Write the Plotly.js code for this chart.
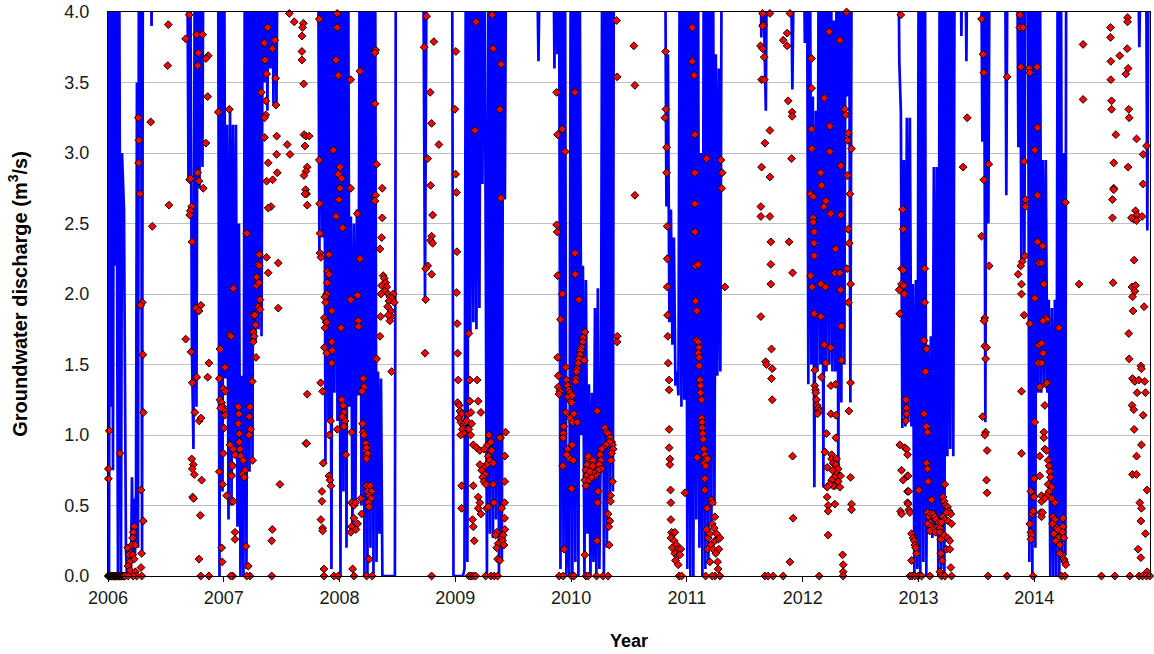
<!DOCTYPE html>
<html>
<head>
<meta charset="utf-8">
<script src="https://cdn.plot.ly/plotly-3.0.1.min.js"></script>
<style>
  html, body { margin: 0; padding: 0; background: #fff; }
  #chart { width: 1154px; height: 654px; }
</style>
</head>
<body>
<div id="chart"></div>
<script>
// Simulated groundwater discharge (m3/s) against decimal year.
// Values above the plotted range (4.0) are off-scale peaks; each block is a
// continuous stretch of record, and blocks are separated by gaps in the record.
const simulatedBlocks = [
  [[2006.000,5],[2006.009,0],[2006.017,5],[2006.026,1.2],[2006.035,5],[2006.043,0.75],[2006.052,5],[2006.060,2.2],[2006.069,5],[2006.086,0],[2006.095,5],[2006.112,0],[2006.121,3.0],[2006.138,2.6],[2006.155,0.2],[2006.164,0],[2006.181,0],[2006.199,0.05],[2006.207,0.7],[2006.216,0.1],[2006.225,0.55],[2006.233,0.15],[2006.242,0.6],[2006.250,3.5],[2006.259,0.2],[2006.268,5],[2006.276,3.3],[2006.285,5],[2006.294,0.15],[2006.302,5]],
  [[2006.363,5],[2006.376,3.9],[2006.389,5]],
  [[2006.682,5],[2006.695,2.8],[2006.708,5],[2006.725,1.6],[2006.738,0.9],[2006.751,5],[2006.764,1.2],[2006.777,5],[2006.790,2.75],[2006.803,5],[2006.816,2.9],[2006.825,5]],
  [[2006.950,5],[2006.963,0],[2006.976,5],[2006.989,0.6],[2007.002,5],[2007.015,1.4],[2007.028,3.2],[2007.041,0.4],[2007.054,3.3],[2007.067,0.5],[2007.079,3.2],[2007.092,0.9],[2007.105,3.2],[2007.118,0.35],[2007.131,2.5],[2007.144,0],[2007.157,1.42],[2007.170,0],[2007.183,5],[2007.196,0.05],[2007.209,5],[2007.222,0.74],[2007.235,5],[2007.248,0.8],[2007.261,5],[2007.274,1.66],[2007.287,5],[2007.300,1.75],[2007.313,5],[2007.326,1.7],[2007.339,5],[2007.351,3.5],[2007.364,5],[2007.377,3.3],[2007.390,5],[2007.403,3.6],[2007.416,5],[2007.429,3.35],[2007.442,5],[2007.455,3.35],[2007.468,5]],
  [[2007.813,5],[2007.826,2.3],[2007.839,5],[2007.852,2.4],[2007.865,5],[2007.878,0.8],[2007.891,5],[2007.904,1.1],[2007.917,4.2],[2007.930,0.05],[2007.943,5],[2007.956,1.3],[2007.969,5],[2007.982,1.1],[2007.995,5],[2008.008,0],[2008.021,5],[2008.034,0.6],[2008.047,5],[2008.060,0.2],[2008.073,5],[2008.085,1.2],[2008.098,2.55],[2008.111,0.35],[2008.124,2.5],[2008.137,0.5],[2008.150,2.6],[2008.163,1.28],[2008.176,5],[2008.189,0.5],[2008.202,5],[2008.215,0],[2008.228,5],[2008.241,0],[2008.254,5],[2008.267,0.2],[2008.280,5],[2008.293,0],[2008.306,5],[2008.319,0.1],[2008.332,1.45],[2008.345,0.3],[2008.358,1.4],[2008.370,0],[2008.478,0],[2008.487,5]],
  [[2008.720,5],[2008.738,1.96],[2008.755,5]],
  [[2008.971,5],[2008.984,0],[2008.997,0],[2009.066,0],[2009.079,0.05],[2009.092,5],[2009.104,0.1],[2009.117,5],[2009.130,1.72],[2009.143,5],[2009.156,1.8],[2009.169,5],[2009.182,1.75],[2009.195,5],[2009.208,1.9],[2009.221,5],[2009.234,2.78],[2009.247,5],[2009.260,2.9],[2009.273,0],[2009.286,5],[2009.299,0.3],[2009.312,5],[2009.325,0.27],[2009.338,5],[2009.351,0.4],[2009.364,5],[2009.377,0],[2009.389,5],[2009.402,0.12],[2009.415,5],[2009.428,2.67],[2009.441,5]],
  [[2009.696,5],[2009.718,3.65],[2009.739,5]],
  [[2009.843,5],[2009.856,3.6],[2009.869,5],[2009.882,3.7],[2009.895,5],[2009.908,0.05],[2009.921,5],[2009.934,0.2],[2009.946,5],[2009.959,0],[2009.972,0.9],[2009.985,0],[2009.998,5],[2010.011,0],[2010.024,5],[2010.037,0.1],[2010.050,5],[2010.063,0],[2010.076,4.0],[2010.089,1.0],[2010.102,2.2],[2010.115,0],[2010.128,2.1],[2010.141,0.3],[2010.154,1.36],[2010.167,0],[2010.180,1.3],[2010.193,0.1],[2010.206,1.9],[2010.218,0],[2010.231,2.04],[2010.244,0.05],[2010.257,1.0],[2010.270,5],[2010.283,0],[2010.296,5],[2010.309,0.2],[2010.322,5],[2010.335,0.55],[2010.348,5],[2010.361,0.6],[2010.370,5]],
  [[2010.810,5],[2010.823,2.62],[2010.836,3.7],[2010.849,1.8],[2010.862,2.6],[2010.875,1.64],[2010.888,2.4],[2010.901,1.35],[2010.914,1.45],[2010.927,1.28],[2010.940,5],[2010.953,1.2],[2010.966,5],[2010.978,1.25],[2010.991,5],[2011.004,0.05],[2011.017,5],[2011.030,0],[2011.043,4.5],[2011.056,0],[2011.069,5],[2011.082,0.4],[2011.095,5],[2011.108,0.2],[2011.121,3.0],[2011.134,0],[2011.147,5],[2011.160,0.05],[2011.173,5],[2011.186,0.1],[2011.199,5],[2011.212,0.38],[2011.225,5],[2011.238,0.5],[2011.250,3.7],[2011.263,1.42],[2011.276,3.6],[2011.289,1.45],[2011.302,5]],
  [[2011.630,5],[2011.643,3.82],[2011.656,5],[2011.669,3.85],[2011.682,3.3],[2011.695,5]],
  [[2011.890,5],[2011.911,3.45],[2011.933,5]],
  [[2012.002,5],[2012.019,3.78],[2012.036,5],[2012.049,1.36],[2012.062,5],[2012.075,1.5],[2012.088,3.4],[2012.101,0.63],[2012.114,3.3],[2012.127,1.45],[2012.140,5],[2012.153,1.5],[2012.166,5],[2012.179,0.63],[2012.192,5],[2012.205,1.45],[2012.218,5],[2012.231,1.5],[2012.244,5],[2012.257,1.45],[2012.270,3.94],[2012.282,1.45],[2012.295,5],[2012.308,0.65],[2012.321,5],[2012.334,1.23],[2012.347,5],[2012.360,1.5],[2012.373,5],[2012.386,3.4],[2012.399,5],[2012.412,1.23],[2012.425,5]],
  [[2012.822,5],[2012.835,3.64],[2012.848,3.3],[2012.861,1.05],[2012.874,2.95],[2012.887,1.06],[2012.900,3.25],[2012.913,1.1],[2012.926,3.25],[2012.939,1.06],[2012.952,2.07],[2012.965,0],[2012.978,2.1],[2012.991,0.05],[2013.003,5],[2013.016,0],[2013.029,5],[2013.042,0.1],[2013.055,5],[2013.068,0],[2013.081,1.64],[2013.094,0.3],[2013.107,1.7],[2013.120,0.27],[2013.133,2.9],[2013.146,0.33],[2013.159,2.9],[2013.172,0],[2013.185,5],[2013.198,0.05],[2013.211,5],[2013.224,0],[2013.237,5],[2013.250,0.85],[2013.263,5],[2013.275,0.9],[2013.288,5],[2013.301,0.85],[2013.314,5]],
  [[2013.358,5],[2013.371,3.83],[2013.384,5]],
  [[2013.401,5],[2013.414,3.65],[2013.427,5]],
  [[2013.539,5],[2013.552,3.08],[2013.565,5],[2013.578,1.09],[2013.591,5],[2013.604,2.5],[2013.617,5]],
  [[2013.746,5],[2013.759,2.7],[2013.772,5]],
  [[2013.850,5],[2013.863,3.04],[2013.876,5],[2013.889,2.2],[2013.902,5],[2013.915,2.25],[2013.927,5],[2013.945,5],[2013.958,0.1],[2013.971,5],[2013.984,0],[2013.997,5],[2014.010,0.2],[2014.023,5],[2014.036,1.3],[2014.048,5],[2014.061,1.3],[2014.074,2.95],[2014.087,1.35],[2014.100,2.95],[2014.113,1.3],[2014.126,1.96],[2014.139,0],[2014.152,1.9],[2014.165,0],[2014.178,1.96],[2014.191,0],[2014.204,5],[2014.217,0],[2014.230,5],[2014.243,0.1],[2014.256,3.0],[2014.269,0.15],[2014.277,5]],
  [[2014.886,5],[2014.908,3.75],[2014.929,5]],
  [[2014.964,5],[2014.977,2.45],[2014.990,5],[2015.000,5]]
];

// Observed groundwater discharge (m3/s) against decimal year.
const observed = [
  // 2006
  [2006.002,0],[2006.007,0],[2006.012,0],[2006.017,0],[2006.022,0],[2006.027,0],[2006.032,0],[2006.037,0],[2006.042,0],[2006.047,0],[2006.052,0],[2006.057,0],[2006.062,0],[2006.067,0],[2006.072,0],[2006.077,0],[2006.082,0],[2006.087,0],[2006.092,0],[2006.097,0],[2006.102,0],[2006.107,0],[2006.112,0],[2006.117,0],[2006.122,0],[2006.127,0],[2006.132,0],[2006.137,0],[2006.142,0],[2006.147,0],
  [2006.011,1.03],[2006.104,0.87],[2006.003,0.76],[2006.003,0.69],
  [2006.227,0.35],[2006.218,0.31],[2006.213,0.27],[2006.207,0.22],[2006.170,0.20],[2006.196,0.16],[2006.181,0.15],[2006.213,0.15],[2006.236,0.22],[2006.291,0.16],[2006.227,0.12],[2006.187,0.10],[2006.173,0.07],[2006.190,0.04],[2006.236,0.03],[2006.285,0.06],[2006.291,0],[2006.248,0],[2006.218,0],[2006.175,0],
  [2006.262,3.25],[2006.268,3.09],[2006.265,2.93],[2006.276,2.71],[2006.296,1.94],[2006.282,1.92],[2006.302,1.57],[2006.305,1.16],[2006.285,0.61],[2006.305,0.39],
  [2006.369,3.22],[2006.383,2.48],[2006.521,3.91],[2006.516,3.62],[2006.527,2.63],
  [2006.702,3.98],[2006.671,3.81],[2006.766,3.84],[2006.818,3.84],[2006.780,3.71],[2006.866,3.69],[2006.846,3.67],[2006.775,3.62],[2006.861,3.40],[2006.846,3.07],
  [2006.706,2.81],[2006.714,2.82],[2006.775,2.86],[2006.786,2.80],[2006.823,2.75],[2006.723,2.62],[2006.711,2.59],[2006.706,2.56],[2006.725,2.37],
  [2006.760,1.90],[2006.803,1.92],[2006.786,1.88],[2006.671,1.68],[2006.717,1.59],[2006.728,1.37],[2006.766,1.41],[2006.861,1.41],[2006.872,1.51],
  [2006.751,1.16],[2006.788,1.10],[2006.803,1.12],[2006.723,0.83],[2006.737,0.79],[2006.745,0.72],[2006.728,0.76],[2006.809,0.68],[2006.731,0.56],[2006.740,0.55],[2006.797,0.43],[2006.786,0.12],[2006.801,0],[2006.872,0],
  [2006.953,3.29],[2006.967,1.61],[2006.961,1.40],
  [2006.967,1.25],[2006.982,1.23],[2006.990,1.20],[2007.002,1.18],[2007.010,1.14],[2007.004,1.05],[2006.996,1.33],[2007.013,1.31],[2006.973,1.19],
  [2006.996,0.87],[2006.961,0.74],[2006.990,0.65],[2006.982,0.20],[2006.987,0.10],
  // 2007
  [2007.048,3.31],[2007.082,2.04],[2007.054,1.71],[2007.010,1.48],[2007.062,1.70],
  [2007.054,0.93],[2007.068,0.79],[2007.062,0.72],[2007.025,0.57],[2007.068,0.53],[2007.077,0],[2007.060,0],
  [2007.125,1.20],[2007.131,1.15],[2007.125,1.08],[2007.134,1.01],[2007.134,0.95],[2007.140,0.90],[2007.146,0.85],
  [2007.226,1.20],[2007.220,1.13],[2007.232,1.04],[2007.218,1.00],[2007.250,0.82],
  [2007.082,0.90],[2007.077,0.78],[2007.068,0.71],[2007.097,0.86],[2007.168,0.82],[2007.183,0.75],[2007.163,0.72],[2007.177,0.70],
  [2007.082,0.53],[2007.097,0.31],[2007.097,0.26],[2007.192,0.21],[2007.212,0.07],[2007.226,0],[2007.198,0],
  [2007.198,2.43],[2007.307,2.28],[2007.298,2.21],[2007.307,2.20],[2007.284,2.12],[2007.284,2.06],[2007.304,2.08],[2007.313,1.96],[2007.298,1.91],[2007.313,1.89],
  [2007.255,1.85],[2007.269,1.85],[2007.275,1.78],[2007.255,1.73],[2007.263,1.70],[2007.255,1.66],[2007.278,1.55],[2007.246,1.38],
  [2007.370,2.26],[2007.384,2.15],[2007.471,2.22],[2007.471,1.90],
  [2007.379,3.89],[2007.350,3.78],[2007.419,3.74],[2007.442,3.80],[2007.356,3.66],[2007.370,3.56],[2007.448,3.53],[2007.324,3.43],[2007.364,3.37],[2007.451,3.34],[2007.362,3.27],[2007.353,3.25],[2007.353,3.11],[2007.457,3.12],
  [2007.548,3.06],[2007.572,2.99],[2007.457,2.99],[2007.384,2.93],[2007.462,2.86],[2007.422,2.81],[2007.370,2.80],[2007.408,2.62],[2007.384,2.61],
  [2007.419,0.33],[2007.414,0.25],[2007.414,0],[2007.485,0.65],
  [2007.566,3.99],[2007.609,3.93],[2007.687,3.92],[2007.681,3.89],[2007.675,3.83],[2007.675,3.72],[2007.675,3.66],[2007.690,3.49],
  [2007.693,3.13],[2007.710,3.12],[2007.738,3.12],[2007.701,3.05],[2007.721,2.90],[2007.710,2.87],[2007.693,2.84],[2007.707,2.74],[2007.716,2.71],[2007.701,2.71],[2007.721,2.63],
  [2007.721,1.29],[2007.710,0.94],[2007.716,0.94],
  [2007.825,3.95],[2007.980,3.99],[2007.980,3.89],[2007.969,3.66],[2007.989,3.55],[2007.825,2.95],[2007.946,3.02],[2007.989,2.85],[2007.995,2.67],[2007.828,2.64],[2007.969,2.55],[2007.831,2.43],[2007.831,2.29],[2007.839,2.26],[2007.908,2.28],
  [2007.897,2.16],[2007.908,2.14],[2007.894,2.08],[2007.889,2.00],[2007.874,1.98],[2007.880,1.94],[2007.932,1.88],[2007.868,1.83],[2007.883,1.80],[2007.874,1.76],[2007.889,1.80],
  [2007.868,1.62],[2007.889,1.58],[2007.932,1.66],[2007.937,1.60],[2007.932,1.51],[2007.837,1.37],[2007.854,1.31],
  [2007.859,0.80],[2007.908,0.71],[2007.917,0.68],[2007.926,0.64],[2007.848,0.60],[2007.848,0.53],[2007.839,0.40],[2007.854,0.34],[2007.854,0.32],
  [2007.911,1.00],[2007.923,1.10],[2007.980,1.04],[2007.865,0.05],[2007.865,0],[2007.952,0],[2007.989,0],
  // 2008
  [2008.003,2.90],[2008.018,2.82],[2008.003,2.75],[2008.027,2.47],[2008.012,1.76],
  [2008.096,3.52],[2008.176,3.58],[2008.096,2.75],[2008.153,2.57],[2008.176,2.25],[2008.096,1.96],[2008.156,1.99],[2008.162,1.81],[2008.162,1.77],
  [2008.018,1.25],[2008.032,1.21],[2008.038,1.16],[2008.047,1.10],[2008.038,1.06],[2008.023,1.13],[2008.055,0.86],[2008.104,1.02],
  [2008.104,0.52],[2008.124,0.50],[2008.139,0.52],[2008.124,0.41],[2008.104,0.35],[2008.142,0.33],[2008.098,0.31],[2008.156,0.37],[2008.185,0.55],[2008.191,0.44],[2008.113,0.05],[2008.124,0],
  [2008.199,1.08],[2008.205,1.02],[2008.211,1.00],[2008.228,0.94],[2008.228,0.89],[2008.234,0.85],[2008.205,1.40],[2008.211,1.34],[2008.193,1.31],[2008.234,0.64],[2008.243,0.60],
  [2008.234,0.91],[2008.243,0.87],[2008.234,0.83],[2008.234,0],[2008.282,0],
  [2008.257,0.12],[2008.263,0.64],[2008.277,0.60],[2008.257,0.57],[2008.271,0.55],[2008.248,0.52],[2008.254,0.49],
  [2008.312,3.73],[2008.306,3.71],[2008.306,3.35],[2008.320,2.92],[2008.369,2.75],[2008.312,2.70],[2008.306,2.66],[2008.369,2.54],[2008.364,2.40],[2008.349,2.32],
  [2008.377,2.13],[2008.386,2.11],[2008.398,2.08],[2008.364,2.06],[2008.407,2.05],[2008.392,2.02],[2008.358,2.00],[2008.421,2.00],[2008.435,1.98],[2008.464,2.00],[2008.450,1.97],[2008.427,1.95],[2008.472,1.94],[2008.415,1.91],[2008.444,1.88],[2008.450,1.84],[2008.435,1.81],[2008.421,1.85],
  [2008.355,1.84],[2008.349,1.70],[2008.320,1.54],[2008.450,1.45],
  [2008.752,3.97],[2008.815,3.79],[2008.731,3.75],[2008.783,3.43],[2008.795,3.21],[2008.858,3.06],[2008.761,2.96],[2008.787,2.77],[2008.804,2.56],[2008.795,2.41],[2008.787,2.38],[2008.804,2.36],[2008.761,2.20],[2008.744,2.18],[2008.795,2.14],[2008.744,1.96],[2008.738,1.58],[2008.795,0],
  // 2009
  [2009.005,3.72],[2008.997,3.31],[2009.003,2.85],[2009.011,2.72],[2009.014,2.30],[2009.011,2.01],[2009.016,1.79],[2009.020,1.58],[2009.025,1.39],
  [2009.117,1.72],[2009.126,1.39],[2009.189,1.39],[2009.169,3.16],[2009.319,3.98],[2009.178,3.93],[2009.327,3.74],[2009.394,3.63],[2009.385,3.31],[2009.394,2.68],
  [2009.020,1.23],[2009.034,1.21],[2009.040,1.17],[2009.054,1.15],[2009.031,1.12],[2009.048,1.09],[2009.068,1.07],[2009.083,1.09],[2009.098,1.10],[2009.060,1.04],[2009.074,1.01],[2009.046,1.00],[2009.111,1.15],[2009.126,1.24],[2009.135,1.16],[2009.141,1.08],[2009.117,1.04],[2009.132,1.00],[2009.198,1.24],[2009.221,1.16],
  [2009.155,0.93],[2009.184,0.91],[2009.212,0.89],[2009.250,0.90],[2009.279,0.93],[2009.290,1.00],[2009.307,0.95],[2009.284,0.85],[2009.313,0.89],[2009.299,0.82],[2009.270,0.79],[2009.241,0.77],[2009.212,0.79],[2009.227,0.75],[2009.256,0.72],[2009.236,0.70],[2009.247,0.67],[2009.264,0.65],[2009.327,0.80],[2009.327,0.65],[2009.391,0.98],
  [2009.054,0.64],[2009.054,0.48],[2009.155,0.64],[2009.198,0.56],[2009.212,0.52],[2009.221,0.44],[2009.198,0.48],[2009.270,0.48],[2009.284,0.49],[2009.333,0.52],[2009.149,0.40],[2009.155,0.35],[2009.163,0.25],
  [2009.357,0.31],[2009.348,0.29],[2009.370,0.23],[2009.365,0.12],[2009.357,0.20],[2009.400,0.27],
  [2009.117,0],[2009.135,0],[2009.155,0],[2009.175,0],[2009.262,0],[2009.307,0],[2009.336,0],[2009.365,0],
  [2009.434,1.02],[2009.385,0.98],[2009.428,0.85],[2009.428,0.67],[2009.426,0.52],[2009.400,0.48],[2009.426,0.41],[2009.428,0.33],[2009.414,0.29],[2009.408,0.25],[2009.420,0.22],[2009.385,0.11],
  [2009.875,3.43],[2009.883,3.13],[2009.923,3.17],[2009.949,3.01],[2009.875,2.49],[2009.880,2.44],[2009.883,2.13],[2009.923,2.00],[2009.909,1.82],
  [2009.883,1.55],[2009.889,1.42],[2009.955,1.48],[2009.889,1.34],[2009.903,1.31],[2009.895,1.29],[2009.961,1.39],[2009.970,1.35],[2009.981,1.32],[2009.990,1.30],[2009.975,1.27],[2009.996,1.24],
  [2009.955,1.16],[2009.990,1.12],[2009.938,1.06],[2009.932,1.01],[2009.932,0.98],[2009.970,0.90],[2009.961,0.86],[2009.990,0.83],[2009.927,0.78],[2009.941,0.19],[2009.897,0],[2009.932,0],
  // 2010
  [2010.033,3.43],[2010.033,2.29],[2010.035,2.14],[2010.067,1.96],
  [2010.119,1.73],[2010.104,1.69],[2010.099,1.66],[2010.091,1.62],[2010.082,1.60],[2010.076,1.57],[2010.067,1.54],[2010.061,1.51],[2010.053,1.47],[2010.048,1.45],[2010.041,1.40],[2010.039,1.38],[2010.113,1.53],
  [2010.004,1.23],[2010.010,1.28],[2010.024,1.15],[2010.013,1.09],[2010.053,1.09],[2010.225,1.17],[2010.018,0.82],[2010.010,0.93],[2010.004,0.62],
  [2010.292,1.05],[2010.307,1.02],[2010.320,1.01],[2010.335,0.98],[2010.350,0.95],[2010.358,0.93],[2010.364,0.90],[2010.350,0.87],[2010.329,0.95],[2010.301,0.93],[2010.277,0.91],[2010.263,0.90],[2010.249,0.86],[2010.257,0.82],[2010.243,0.79],[2010.263,0.76],[2010.234,0.75],[2010.220,0.72],[2010.206,0.71],[2010.191,0.74],[2010.177,0.76],[2010.162,0.82],[2010.148,0.83],[2010.139,0.79],[2010.128,0.75],[2010.134,0.71],[2010.119,0.68],[2010.128,0.64],[2010.156,0.68],[2010.177,0.70],[2010.162,0.74],[2010.148,0.85],[2010.191,0.82],[2010.186,0.78],
  [2010.344,0.82],[2010.358,0.67],[2010.341,0.57],[2010.341,0.53],[2010.234,0.60],[2010.229,0.52],[2010.320,0.44],[2010.335,0.39],[2010.326,0.35],[2010.225,0.25],[2010.329,0.22],[2010.119,0.15],
  [2010.004,0],[2010.024,0],[2010.128,0],[2010.148,0],[2010.220,0],[2010.277,0],[2010.320,0],
  [2010.393,3.94],[2010.398,3.54],[2010.398,1.70],[2010.398,1.66],[2010.542,3.76],[2010.551,3.48],[2010.551,2.70],
  [2010.816,3.72],[2010.819,3.31],[2010.810,3.25],[2010.825,3.04],[2010.825,2.86],[2010.830,2.48],[2010.830,2.25],[2010.830,2.05],[2010.833,1.85],[2010.836,1.70],[2010.839,1.51],[2010.847,1.39],[2010.847,1.32],[2010.847,1.04],[2010.847,0.91],[2010.853,0.83],[2010.853,0.79],[2010.859,0.61],[2010.862,0.52],[2010.862,0.40],[2010.983,0.59],
  [2010.868,0.31],[2010.882,0.30],[2010.896,0.31],[2010.862,0.27],[2010.890,0.25],[2010.911,0.22],[2010.873,0.20],[2010.925,0.19],[2010.948,0.19],[2010.896,0.16],[2010.920,0.14],[2010.940,0.15],[2010.902,0.11],[2010.925,0.08],[2010.933,0],[2010.954,0],
  // 2011
  [2011.046,3.89],[2011.046,3.65],[2011.063,3.55],[2011.069,3.13],[2011.069,2.86],[2011.069,2.64],[2011.069,2.44],[2011.075,2.20],[2011.098,2.21],[2011.075,1.95],[2011.086,1.88],
  [2011.084,1.67],[2011.098,1.66],[2011.104,1.62],[2011.098,1.58],[2011.106,1.55],[2011.106,1.49],[2011.112,1.39],[2011.118,1.35],[2011.118,1.30],[2011.127,1.25],
  [2011.127,1.12],[2011.132,1.09],[2011.132,1.05],[2011.136,1.01],[2011.141,0.97],[2011.147,0.90],[2011.155,0.86],[2011.162,0.83],[2011.179,0.83],[2011.150,0.80],[2011.162,0.78],[2011.089,0.84],[2011.155,0.69],[2011.155,0.61],[2011.175,0.48],[2011.213,0.54],[2011.222,0.52],[2011.242,0.42],
  [2011.170,2.96],[2011.294,2.95],[2011.305,2.86],[2011.300,2.75],[2011.328,2.05],
  [2011.170,0.33],[2011.184,0.27],[2011.199,0.30],[2011.219,0.37],[2011.236,0.34],[2011.256,0.30],[2011.242,0.25],[2011.207,0.22],[2011.179,0.19],[2011.227,0.19],[2011.270,0.26],[2011.285,0.27],[2011.276,0.19],[2011.250,0.16],[2011.199,0.10],[2011.265,0.10],[2011.270,0.05],
  [2011.242,0],[2011.219,0],[2011.285,0],[2011.162,0],
  [2011.654,3.99],[2011.717,3.99],[2011.659,3.91],[2011.654,3.90],[2011.636,3.76],[2011.654,3.74],[2011.668,3.68],[2011.645,3.52],[2011.668,3.52],[2011.717,3.16],[2011.674,3.07],[2011.645,2.90],[2011.717,2.83],[2011.639,2.62],[2011.639,2.55],[2011.717,2.55],
  [2011.725,2.37],[2011.725,2.21],[2011.725,2.07],[2011.639,1.84],[2011.731,1.61],[2011.680,1.52],[2011.688,1.50],[2011.737,1.47],[2011.731,1.40],[2011.737,1.25],[2011.674,0],[2011.702,0],
  [2011.890,3.99],[2011.866,3.85],[2011.832,3.80],[2011.866,3.76],[2011.875,3.37],[2011.909,3.29],[2011.909,3.26],[2011.904,2.96],[2011.883,2.37],[2011.913,2.15],[2011.913,0.85],[2011.918,0.41],[2011.890,0.10],[2011.745,0],[2011.832,0],
  // 2012
  [2012.379,4.00],[2012.229,3.86],[2012.321,3.80],[2012.077,3.67],[2012.077,3.46],[2012.186,3.39],[2012.364,3.31],[2012.373,3.27],[2012.077,3.17],[2012.235,3.19],[2012.393,3.14],[2012.388,3.09],[2012.079,3.03],[2012.422,3.03],[2012.235,3.01],
  [2012.330,2.91],[2012.155,2.86],[2012.388,2.84],[2012.163,2.77],[2012.068,2.71],[2012.091,2.69],[2012.200,2.66],[2012.408,2.71],[2012.183,2.62],[2012.241,2.57],[2012.091,2.54],[2012.091,2.51],[2012.099,2.44],[2012.330,2.56],[2012.393,2.46],[2012.402,2.36],[2012.097,2.36],[2012.099,2.27],[2012.284,2.32],
  [2012.278,2.15],[2012.321,2.15],[2012.384,2.18],[2012.068,2.13],[2012.082,2.05],[2012.157,2.07],[2012.198,2.05],[2012.414,2.07],[2012.327,2.03],[2012.396,1.94],[2012.099,1.86],[2012.157,1.84],[2012.336,1.77],
  [2012.186,1.64],[2012.241,1.62],[2012.200,1.51],[2012.105,1.46],[2012.163,1.41],[2012.336,1.53],[2012.414,1.37],[2012.244,1.35],[2012.284,1.36],
  [2012.105,1.35],[2012.111,1.32],[2012.114,1.30],[2012.120,1.25],[2012.125,1.21],[2012.134,1.19],[2012.143,1.17],[2012.129,1.15],[2012.399,1.17],[2012.244,1.15],[2012.287,1.14],[2012.206,1.01],[2012.287,0.98],[2012.192,0.88],[2012.250,0.86],[2012.212,0.77],
  [2012.250,0.83],[2012.263,0.80],[2012.293,0.83],[2012.287,0.79],[2012.307,0.76],[2012.258,0.75],[2012.293,0.72],[2012.321,0.71],[2012.272,0.70],[2012.250,0.68],[2012.307,0.67],[2012.278,0.64],[2012.321,0.63],[2012.327,0.71],[2012.263,0.64],[2012.235,0.65],
  [2012.414,0.70],[2012.212,0.63],[2012.212,0.56],[2012.220,0.50],[2012.220,0.46],[2012.278,0.51],[2012.422,0.51],[2012.422,0.47],[2012.220,0.29],[2012.345,0.15],[2012.350,0.08],[2012.350,0.03],[2012.143,0],[2012.350,0],
  [2012.848,3.98],[2012.863,2.60],[2012.868,2.46],[2012.854,2.18],[2012.868,2.17],[2012.854,2.07],[2012.874,2.06],[2012.833,2.03],[2012.877,2.00],[2012.839,1.86],
  [2012.891,1.25],[2012.897,1.19],[2012.897,1.15],[2012.891,1.10],[2012.839,0.93],[2012.883,0.91],[2012.897,0.90],[2012.906,0.86],[2012.854,0.75],[2012.868,0.68],[2012.906,0.71],[2012.906,0.60],[2012.845,0.46],[2012.854,0.44],[2012.906,0.52],
  [2012.911,0.71],[2012.917,0.60],[2012.911,0.51],[2012.917,0.47],[2012.926,0.45],[2012.940,0.30],[2012.954,0.27],[2012.963,0.25],[2012.969,0.22],[2012.984,0.16],[2012.975,0.20],[2012.940,0.11],
  [2012.926,0],[2012.946,0],[2012.969,0],[2012.997,0],
  // 2013
  [2013.003,0.61],[2013.055,2.18],[2013.055,1.94],[2013.049,1.67],[2013.070,1.61],[2013.061,1.45],[2013.049,1.15],[2013.070,1.06],[2013.079,1.02],[2013.070,0.80],[2013.079,0.76],[2013.084,0.67],[2013.113,0.54],
  [2013.079,0.45],[2013.090,0.42],[2013.107,0.44],[2013.127,0.44],[2013.142,0.42],[2013.156,0.40],[2013.099,0.38],[2013.079,0.37],[2013.113,0.35],[2013.136,0.34],[2013.165,0.35],[2013.099,0.32],[2013.148,0.31],[2013.176,0.38],[2013.185,0.34],
  [2013.228,0.65],[2013.213,0.56],[2013.222,0.53],[2013.234,0.50],[2013.251,0.49],[2013.265,0.46],[2013.280,0.44],[2013.243,0.45],[2013.213,0.42],[2013.228,0.40],[2013.257,0.39],[2013.286,0.37],[2013.199,0.38],
  [2013.185,0.31],[2013.193,0.26],[2013.222,0.29],[2013.251,0.27],[2013.271,0.25],[2013.243,0.19],[2013.193,0.16],[2013.271,0.19],[2013.205,0.11],[2013.280,0.06],[2013.185,0.03],
  [2013.027,0],[2013.099,0],[2013.199,0],[2013.228,0],[2013.286,0],
  [2013.545,3.95],[2013.559,3.70],[2013.565,3.57],[2013.421,3.25],[2013.386,2.90],[2013.608,2.92],[2013.565,2.81],[2013.545,2.41],[2013.611,2.20],[2013.573,1.83],[2013.567,1.81],[2013.573,1.63],[2013.588,1.62],[2013.580,1.54],
  [2013.554,1.13],[2013.580,1.02],[2013.573,1.00],[2013.593,0.89],[2013.588,0.68],[2013.593,0.59],[2013.602,0],[2013.766,0],[2013.766,3.54],
  [2013.876,3.98],[2013.876,3.89],[2013.904,3.89],[2013.884,3.61],[2013.956,3.60],[2013.962,3.57],[2014.025,3.61],[2014.029,3.18],[2014.005,3.02],[2013.913,2.94],[2014.029,2.70],[2013.925,2.67],[2013.925,2.62],[2014.029,2.37],
  [2013.919,2.27],[2013.896,2.23],[2013.884,2.20],[2013.861,2.14],[2014.040,2.22],[2013.890,2.07],[2013.890,2.00],[2013.913,1.85],[2013.962,1.79],[2014.005,1.97],[2014.040,1.64],[2014.034,1.51],[2014.048,1.34],[2013.890,1.31],
  [2014.005,1.09],[2013.890,0.87],[2014.048,0.85],[2013.999,0.69],[2014.048,0.71],[2013.971,0.60],[2013.982,0.44],[2013.991,0.46],[2013.962,0.37],[2013.971,0.31],[2013.977,0.29],[2013.971,0.26],[2013.999,0.56],[2013.991,0],
  // 2014
  [2014.063,0.57],[2014.063,0.53],[2014.057,0.45],[2014.063,0.42],
  [2014.072,2.34],[2014.063,2.22],[2014.083,2.07],[2014.100,1.83],[2014.111,1.82],[2014.077,1.81],[2014.213,1.76],[2014.063,1.65],[2014.077,1.58],[2014.063,1.51],[2014.100,1.36],[2014.111,1.37],[2014.092,1.21],
  [2014.083,1.02],[2014.083,0.98],[2014.092,0.90],[2014.106,0.89],[2014.120,0.82],[2014.129,0.78],[2014.135,0.74],[2014.141,0.70],[2014.120,0.65],[2014.150,0.63],[2014.129,0.60],[2014.106,0.57],[2014.092,0.55],[2014.150,0.55],[2014.178,0.52],
  [2014.072,0.45],[2014.163,0.42],[2014.178,0.40],[2014.158,0.37],[2014.193,0.34],[2014.207,0.33],[2014.169,0.30],[2014.207,0.27],[2014.186,0.25],[2014.221,0.22],[2014.250,0.41],[2014.250,0.35],[2014.245,0.31],[2014.256,0.27],[2014.245,0.15],[2014.256,0.12],[2014.264,0.10],[2014.273,0.08],[2014.221,0.16],
  [2014.236,0],[2014.264,0],[2014.270,2.65],[2014.388,2.07],[2014.422,3.77],[2014.422,3.38],[2014.581,0],
  [2014.806,3.96],[2014.806,3.93],[2014.659,3.89],[2014.659,3.82],[2014.803,3.74],[2014.739,3.69],[2014.662,3.65],[2014.811,3.60],[2014.791,3.56],[2014.662,3.52],[2014.668,3.37],[2014.668,3.31],[2014.817,3.31],[2014.820,3.25],[2014.705,3.13],
  [2014.884,3.10],[2014.970,3.05],[2014.941,2.99],[2014.687,2.93],[2014.811,2.90],[2014.941,2.78],[2014.687,2.75],[2014.687,2.74],[2014.676,2.67],
  [2014.875,2.59],[2014.889,2.56],[2014.860,2.53],[2014.840,2.54],[2014.884,2.52],[2014.932,2.55],[2014.676,2.54],[2014.863,2.24],[2014.681,2.08],
  [2014.845,2.05],[2014.875,2.06],[2014.869,2.02],[2014.849,1.98],[2014.854,1.88],[2014.949,1.91],[2014.817,1.72],[2014.820,1.54],[2014.921,1.49],[2014.926,1.47],
  [2014.849,1.40],[2014.869,1.38],[2014.903,1.39],[2014.955,1.38],[2014.889,1.30],[2014.961,1.30],[2014.845,1.21],[2014.860,1.18],[2014.941,1.14],[2014.863,1.04],
  [2014.926,0.93],[2014.884,0.85],[2014.849,0.72],[2014.884,0.72],[2014.975,0.61],[2014.912,0.52],[2014.926,0.48],[2014.921,0.39],[2014.961,0.30],[2014.897,0.19],[2014.921,0.13],[2014.975,0.03],
  [2014.696,0],[2014.826,0],[2014.906,0],[2014.935,0],[2014.970,0],[2014.998,0]
];

const yearTicks = [2006, 2007, 2008, 2009, 2010, 2011, 2012, 2013, 2014];

// Join the record blocks into one line, with a null between blocks so the line breaks.
const simX = [], simY = [];
simulatedBlocks.forEach((block, i) => {
  if (i > 0) { simX.push(null); simY.push(null); }
  block.forEach(([t, q]) => { simX.push(t); simY.push(q); });
});

const obsX = observed.map(p => p[0]);
const obsY = observed.map(p => p[1]);

const baseFont = 'Arial, "Liberation Sans", sans-serif';

const traces = [
  {
    type: 'scatter', mode: 'lines', name: 'Simulated',
    x: simX, y: simY,
    connectgaps: false,
    line: { color: '#0000ff', width: 2.7, simplify: false },
    hoverinfo: 'skip'
  },
  {
    type: 'scatter', mode: 'markers', name: 'Observed',
    x: obsX, y: obsY,
    cliponaxis: false,
    marker: { symbol: 'diamond', size: 6, color: '#ff0000', line: { color: '#000000', width: 1 } }
  }
];

const layout = {
  width: 1154, height: 654,
  margin: { l: 108, r: 4, t: 12, b: 78 },
  paper_bgcolor: '#ffffff', plot_bgcolor: '#ffffff',
  showlegend: false,
  font: { family: baseFont, size: 18, color: '#000000' },
  xaxis: {
    type: 'linear', range: [2006, 2015],
    tickmode: 'array', tickvals: yearTicks, ticktext: yearTicks.map(String),
    ticks: 'outside', ticklen: 5, tickwidth: 1, tickcolor: '#000000',
    showgrid: false, zeroline: false,
    showline: true, linecolor: '#000000', linewidth: 1, mirror: true,
    tickfont: { family: baseFont, size: 18, color: '#1a1a1a' },
    title: { text: '<b>Year</b>', font: { family: baseFont, size: 18, color: '#000000' }, standoff: 27 }
  },
  yaxis: {
    range: [0, 4], tick0: 0, dtick: 0.5, tickformat: '.1f',
    ticks: '', ticklabelstandoff: 14,
    showgrid: true, gridcolor: '#c0c0c0', gridwidth: 1,
    zeroline: false,
    showline: true, linecolor: '#000000', linewidth: 1, mirror: true,
    tickfont: { family: baseFont, size: 18, color: '#1a1a1a' },
    title: { text: '<b>Groundwater discharge (m<sup>3</sup>/s)</b>', font: { family: baseFont, size: 20, color: '#000000' }, standoff: 31 }
  }
};

Plotly.newPlot('chart', traces, layout, { staticPlot: true, displayModeBar: false });
</script>
</body>
</html>
